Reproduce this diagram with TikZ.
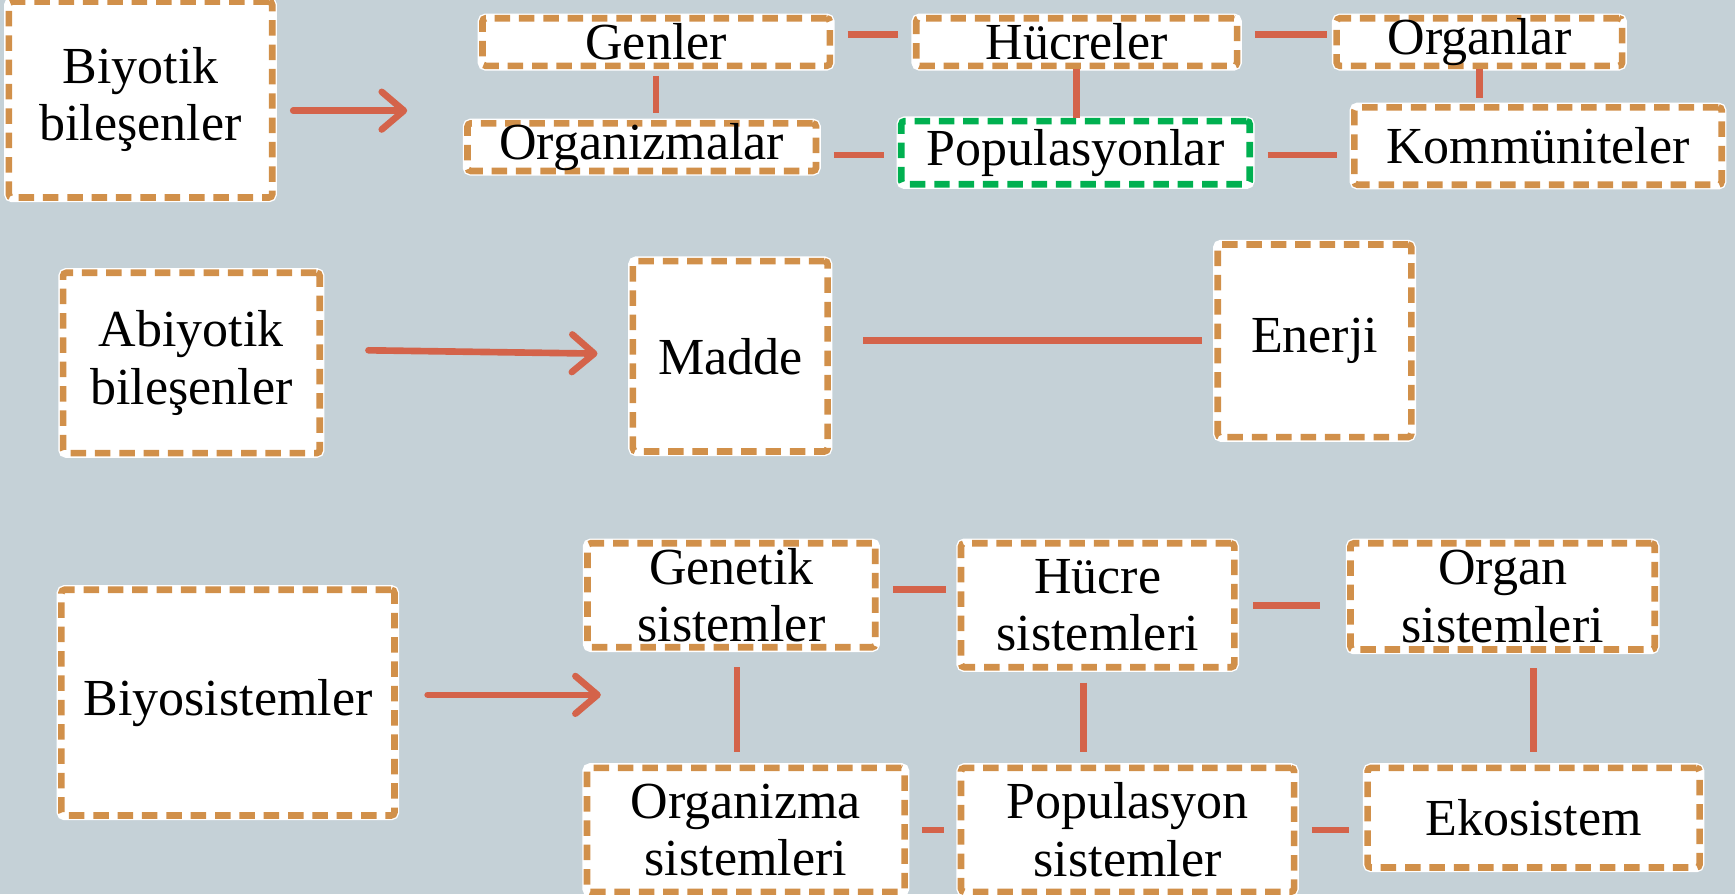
\documentclass[tikz,border=0pt]{standalone}
\usepackage{fontspec}
\setmainfont{Liberation Serif}
\usetikzlibrary{shapes,arrows,arrows.meta,positioning,calc}
\definecolor{ekobg}{RGB}{197,209,215}
\definecolor{ekoorange}{RGB}{209,144,74}
\definecolor{ekogreen}{RGB}{0,176,80}
\definecolor{ekored}{RGB}{212,99,74}

\begin{document}
\begin{tikzpicture}[x=1pt,y=-1pt,
    kutu/.style={rectangle, fill=white, draw=ekoorange, line width=6pt,
        dash pattern=on 14pt off 8pt, rounded corners=3pt, inner sep=0pt,
        align=center, font=\fontsize{47}{52}\selectfont,
        preaction={draw=white, solid, line width=8.5pt}},
    yesilkutu/.style={kutu, draw=ekogreen},
    bag/.style={draw=ekored, line width=6pt, shorten <=13pt, shorten >=13pt},
    ok/.style={draw=ekored, line width=6pt, line cap=round,
        -{Straight Barb[length=20pt,width=34pt,line cap=round,line join=round]}}]
    % Background
    \useasboundingbox (0,0) rectangle (1568,808);
    \fill[ekobg] (0,0) rectangle (1568,808);

    % Biyotik row
    \node[kutu, minimum width=238pt, minimum height=177pt] (biyotik) at (127,90) {Biyotik\\bileşenler};
    \node[kutu, minimum width=314pt, minimum height=43pt] (genler) at (593,38) {Genler};
    \node[kutu, minimum width=290pt, minimum height=43pt] (hucreler) at (973,38) {Hücreler};
    \node[kutu, minimum width=258pt, minimum height=43pt] (organlar) at (1337,38) {Organlar};
    \node[kutu, minimum width=315pt, minimum height=43pt] (organizmalar) at (580,133) {Organizmalar};
    \node[yesilkutu, minimum width=315pt, minimum height=57pt] (populasyonlar) at (972,138) {Populasyonlar};
    \node[kutu, minimum width=332pt, minimum height=70pt] (kommuniteler) at (1390,132) {Kommüniteler};

    \coordinate (biyotikuc) at (368,100);
    \draw[ok, shorten <=16pt] (biyotik.east |- biyotikuc) -- (biyotikuc);
    \draw[bag] ([yshift=7pt]genler.east) -- ([yshift=7pt]hucreler.west);
    \draw[bag, shorten >=6pt] ([yshift=7pt]hucreler.east) -- ([yshift=7pt]organlar.west);
    \draw[bag, shorten <=6pt, shorten >=6pt] (genler.south) -- (genler.south |- organizmalar.north);
    \draw[bag, shorten <=0pt, shorten >=0pt] (hucreler.south) -- (hucreler.south |- populasyonlar.north);
    \draw[bag, shorten <=0pt, shorten >=5pt] (organlar.south) -- (organlar.south |- kommuniteler.north);
    \draw[bag] ([yshift=-7pt]organizmalar.east) -- ([yshift=-7pt]organizmalar.east -| populasyonlar.west);
    \draw[bag] ([yshift=-2pt]populasyonlar.east) -- ([yshift=-2pt]populasyonlar.east -| kommuniteler.west);

    % Abiyotik row
    \node[kutu, minimum width=232pt, minimum height=163pt] (abiyotik) at (173,328) {Abiyotik\\bileşenler};
    \node[kutu, minimum width=176pt, minimum height=172pt] (madde) at (660,322) {Madde};
    \node[kutu, minimum width=175pt, minimum height=174pt] (enerji) at (1188,308) {Enerji};

    \draw[ok, shorten <=41pt, shorten >=29pt] ([yshift=12pt]abiyotik.east) -- ([yshift=2pt]madde.west);
    \draw[bag, shorten <=29pt, shorten >=11pt] (enerji.west -| madde.east) -- (enerji.west);

    % Biyosistemler row
    \node[kutu, minimum width=301pt, minimum height=204pt] (biyosistemler) at (206,635) {Biyosistemler};
    \node[kutu, minimum width=260pt, minimum height=94pt] (genetik) at (661,538) {Genetik\\sistemler};
    \node[kutu, minimum width=247pt, minimum height=112pt] (hucre) at (992,547) {Hücre\\sistemleri};
    \node[kutu, minimum width=275pt, minimum height=96pt] (organ) at (1358,539) {Organ\\sistemleri};
    \node[kutu, minimum width=287pt, minimum height=112pt] (organizma) at (674,750) {Organizma\\sistemleri};
    \node[kutu, minimum width=301pt, minimum height=112pt] (populasyon) at (1019,750) {Populasyon\\sistemler};
    \node[kutu, minimum width=300pt, minimum height=90pt] (ekosistem) at (1386,739) {Ekosistem};

    \coordinate (biyoucu) at (543,628);
    \draw[ok, shorten <=27pt] (biyosistemler.east |- biyoucu) -- (biyoucu);
    \draw[bag, shorten >=11pt] ([yshift=5pt]genetik.east) -- ([yshift=5pt]genetik.east -| hucre.west);
    \draw[bag, shorten <=14pt, shorten >=25pt] (hucre.east) -- (hucre.east -| organ.west);
    \draw[bag, shorten <=15pt, shorten >=11pt] ([xshift=5pt]genetik.south) -- ([xshift=5pt]genetik.south |- organizma.north);
    \draw[bag, shorten <=11pt, shorten >=11pt] ([xshift=-13pt]hucre.south) -- ([xshift=-13pt]hucre.south |- populasyon.north);
    \draw[bag, shorten <=14pt, shorten >=11pt] (ekosistem.north |- organ.south) -- (ekosistem.north);
    \draw[bag, shorten >=12pt] (organizma.east) -- (organizma.east -| populasyon.west);
    \draw[bag, shorten >=14pt] (populasyon.east) -- (populasyon.east -| ekosistem.west);
\end{tikzpicture}
\end{document}
